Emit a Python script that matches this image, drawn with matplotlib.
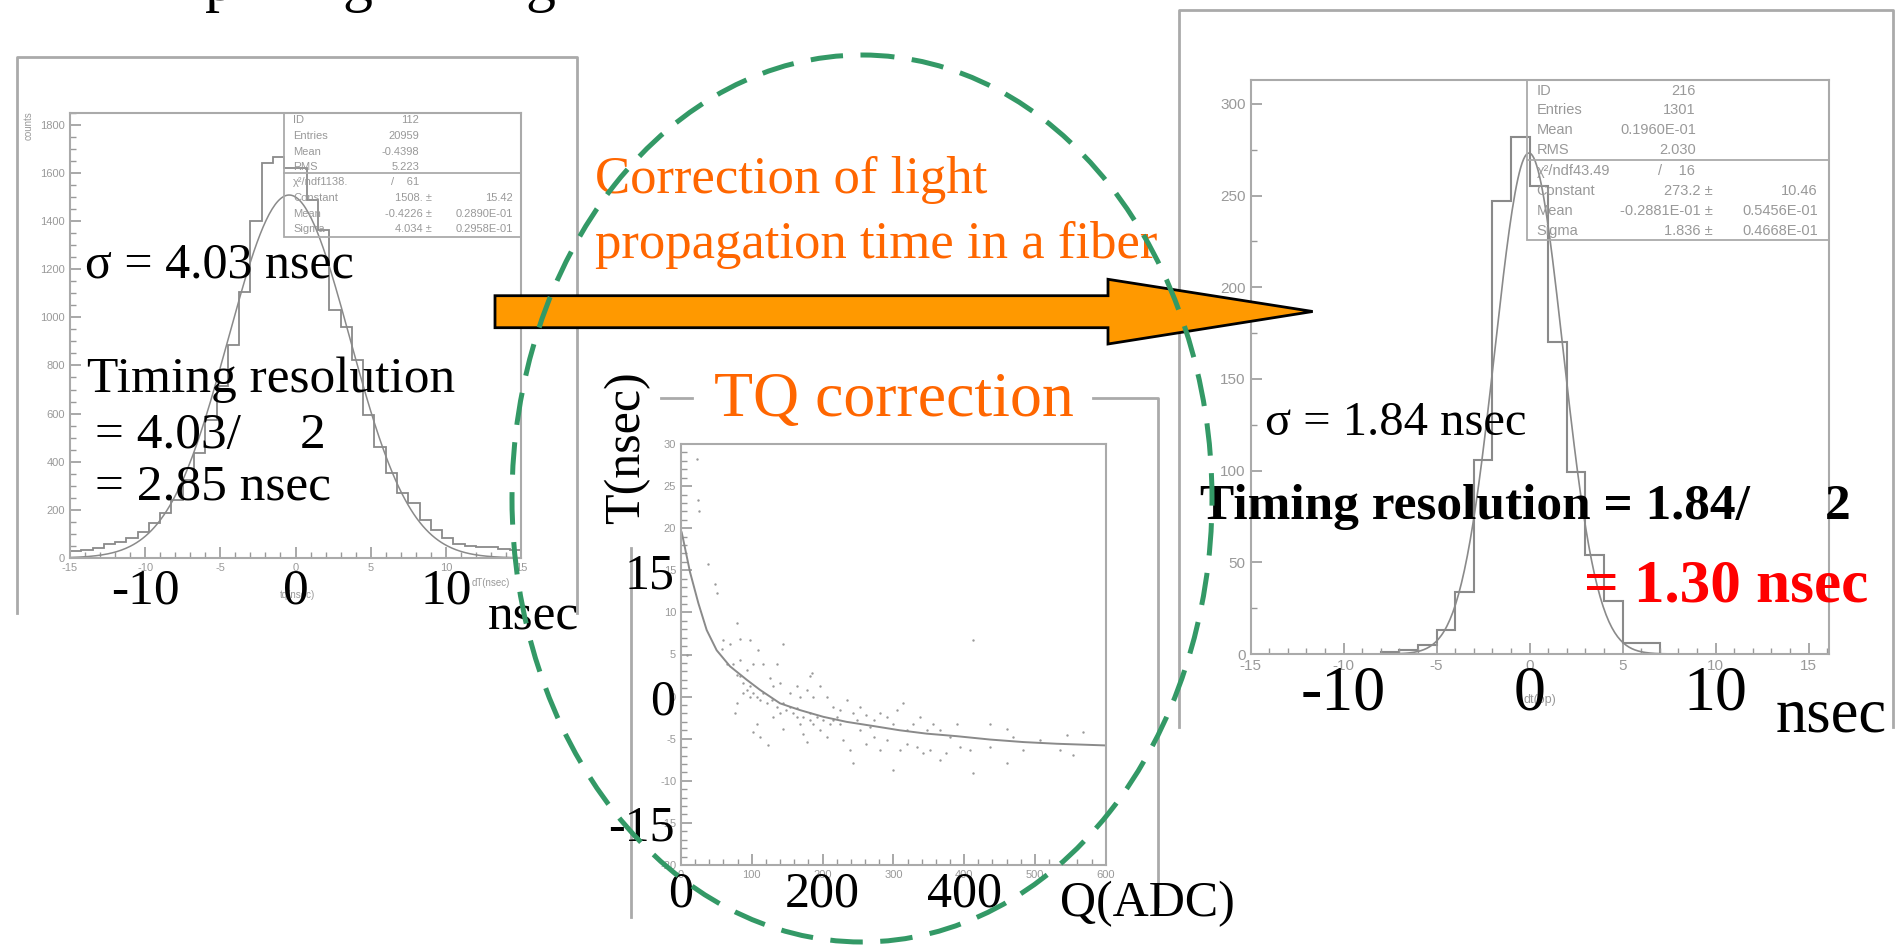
import matplotlib
matplotlib.use('Agg')
import matplotlib.pyplot as plt
import numpy as np
from matplotlib.patches import Ellipse, Polygon, Rectangle
from matplotlib.transforms import blended_transform_factory, offset_copy
from matplotlib.ticker import MultipleLocator

plt.rcParams['axes.unicode_minus'] = False

W, H = 1904, 951
SERIF = 'Liberation Serif'
SANS = 'Liberation Sans'
GREY = '#999999'
LINE = '#8a8a8a'

# --- timing difference before correction (40 bins, -15..15 ns)
dt_edges = np.linspace(-15, 15, 41)
dt_counts = [30, 35, 40, 58, 66, 82, 110, 144, 186, 240,
             324, 435, 574, 713, 885, 1107, 1398, 1641, 1664, 1620,
             1620, 1488, 1363, 1031, 960, 823, 594, 463, 352, 269,
             230, 158, 116, 82, 58, 50, 47, 44, 36, 33]
fit_before = (1508.0, -0.4226, 4.034)   # constant, mean, sigma

# --- timing difference after correction (1 ns bins)
dt2_edges = np.arange(-8, 8)
dt2_counts = [1, 2, 5, 13, 34, 106, 247, 282, 255, 170, 99, 54, 29, 6, 6]
fit_after = (273.2, -0.02881, 1.836)

# --- T vs Q scatter and correction curve
tq_q = [23, 26, 24.5, 38.6, 48, 50.4, 8, 78.7, 69.2, 59.8, 57.5, 83.4, 97.5, 74,
        83.4, 64.5, 78.7, 92.8, 102, 109, 116, 125.8, 135, 144.6, 130.5, 140, 154,
        163.4, 168, 177.6, 182, 184.6, 187, 196, 205.8, 215, 224.7, 234, 243.5, 253,
        262, 272, 281, 290.6, 300, 314, 304.7, 319, 328, 337.7, 347, 356.5, 366, 380,
        389.5, 413, 436.6, 460, 469.6, 507, 545, 568.5, 535.5, 554,
        76.3, 78.7, 88, 97.5, 107, 102, 111.6, 123, 130.5, 140, 144.6, 154, 163.4,
        168, 173, 177.6, 182, 187, 196, 205.8, 215, 224.7, 229, 239, 243.5, 253, 262,
        272, 281, 290.6, 300, 309.4, 319, 333, 342.4, 352, 366, 375, 394, 408, 413,
        436.6, 460, 483.7,
        83.4, 88, 92.8, 97.5, 102, 107, 111.6, 116, 121, 128, 135, 144.6, 149, 158.7,
        163.4, 173, 182, 191.7, 201, 210.5, 220, 248, 267]
tq_t = [28.2, 22.1, 23.3, 15.8, 13.4, 12.3, 4.9, 8.8, 6.3, 6.7, 5.7, 6.9, 6.7, 3.9,
        4.3, 3.9, 2.6, 3.2, 3.9, 5.5, 3.9, 2.2, 3.9, 6.3, 1.2, 1.6, 0.4,
        1.2, 0.0, 0.8, 2.4, 2.8, 0.0, 1.2, 0.0, -1.2, -1.6, -0.4, -2.0, -1.2,
        -2.2, -2.8, -2.0, -2.4, -3.2, -0.8, -1.6, -4.0, -3.2, -2.4, -4.0, -3.2, -4.0, -4.8,
        -3.2, 6.7, -3.2, -3.8, -4.8, -5.2, -4.6, -4.2, -6.4, -6.9,
        -2.0, -0.8, 0.4, 0.0, -3.2, -4.2, -4.8, -5.8, -2.4, -2.0, -3.8, -1.2, -2.4,
        -3.2, -4.4, -5.4, -2.0, -3.2, -4.0, -4.8, -2.8, -3.2, -5.2, -6.4, -7.9, -4.0, -5.6,
        -4.8, -6.4, -5.2, -8.7, -6.4, -5.6, -6.0, -6.7, -6.4, -7.5, -6.7, -6.0, -6.4, -9.1,
        -6.0, -7.9, -6.4,
        2.4, 1.6, 0.8, 1.2, 0.4, 0.0, -0.4, 0.4, -0.8, -0.4, -1.2, -0.8, -1.6, -2.0,
        -1.4, -2.4, -2.8, -2.4, -2.8, -3.2, -2.4, -2.8, -3.6]
curve_q = [1, 3.3, 12.7, 24.5, 36.3, 50.4, 69.2, 92.8, 111.6, 139.9, 168, 201, 234,
           272, 309, 347, 389.5, 436.6, 483.7, 530.8, 600]
curve_t = [19.5, 18.6, 14.8, 11.1, 7.9, 5.5, 3.6, 2.0, 0.8, -0.8, -1.6, -2.4, -3.0,
           -3.5, -4.0, -4.4, -4.7, -5.1, -5.4, -5.6, -5.8]


def px_box(x0, y0, x1, y1):
    return [x0 / W, 1 - y1 / H, (x1 - x0) / W, (y1 - y0) / H]


def gauss(x, c, m, s):
    return c * np.exp(-0.5 * ((x - m) / s) ** 2)


def paw_axes(ax, tick_size):
    for sp in ax.spines.values():
        sp.set_color('#aaaaaa')
        sp.set_linewidth(1.5)
    ax.tick_params(which='both', direction='in', color=GREY, labelcolor=GREY,
                   labelsize=tick_size, top=False, right=False)
    ax.tick_params(which='major', length=8, width=1.2)
    ax.tick_params(which='minor', length=4, width=1)
    for lab in ax.get_xticklabels() + ax.get_yticklabels():
        lab.set_family(SANS)


fig = plt.figure(figsize=(W / 100, H / 100), dpi=100)

# left histogram
axl = fig.add_axes(px_box(70, 112.7, 521, 558))
axl.stairs(dt_counts, dt_edges, color=LINE, lw=1.3)
xs = np.linspace(-15, 15, 300)
axl.plot(xs, gauss(xs, *fit_before), color=LINE, lw=1.1)
axl.set_xlim(-15, 15)
axl.set_ylim(0, 1850)
axl.xaxis.set_major_locator(MultipleLocator(5))
axl.xaxis.set_minor_locator(MultipleLocator(1))
axl.yaxis.set_major_locator(MultipleLocator(200))
axl.yaxis.set_minor_locator(MultipleLocator(50))
paw_axes(axl, 8)

# right histogram
axr = fig.add_axes(px_box(1250.5, 80, 1829, 654))
axr.stairs(dt2_counts, dt2_edges, color=LINE, lw=1.5)
xs2 = np.linspace(-15, 16, 400)
axr.plot(xs2, gauss(xs2, *fit_after), color=LINE, lw=1.2)
axr.set_xlim(-15, 16.1)
axr.set_ylim(0, 313)
axr.set_xticks([-15, -10, -5, 0, 5, 10, 15])
axr.xaxis.set_minor_locator(MultipleLocator(1))
axr.yaxis.set_major_locator(MultipleLocator(50))
axr.yaxis.set_minor_locator(MultipleLocator(25))
paw_axes(axr, 11)

# middle T-Q scatter
axm = fig.add_axes(px_box(681, 444, 1105.7, 865))
axm.scatter(tq_q, tq_t, s=3, color='#9a9a9a', linewidths=0)
axm.plot(curve_q, curve_t, color=LINE, lw=1.4)
axm.set_xlim(0, 600)
axm.set_ylim(-20, 30)
axm.xaxis.set_major_locator(MultipleLocator(100))
axm.xaxis.set_minor_locator(MultipleLocator(20))
axm.yaxis.set_major_locator(MultipleLocator(5))
axm.yaxis.set_minor_locator(MultipleLocator(1))
paw_axes(axm, 8)

# overlay in pixel coordinates (y downwards)
ov = fig.add_axes([0, 0, 1, 1], zorder=10)
ov.set_xlim(0, W)
ov.set_ylim(H, 0)
ov.axis('off')
ov.patch.set_alpha(0)

frame = dict(color='#aaaaaa', lw=2)
ov.plot([16.6, 16.6, 577, 577], [613, 57.3, 57.3, 613], **frame)
ov.plot([1179, 1179, 1893, 1893], [727, 10, 10, 727], **frame)
ov.plot([631, 631], [548, 917], **frame)
ov.plot([661, 692], [398, 398], **frame)
ov.plot([1093, 1158, 1158], [398, 398, 906], **frame)

# stat boxes
def stat_box(x0, y0, x1, y1, ydiv, rows, xlab, size):
    ov.add_patch(Rectangle((x0, y0), x1 - x0, y1 - y0, fill=False,
                           edgecolor='#aaaaaa', lw=1.3))
    ov.plot([x0, x1], [ydiv, ydiv], color='#aaaaaa', lw=1.3)
    for y, lab, c1x, c1, c2x, c2 in rows:
        ov.text(xlab, y, lab, family=SANS, fontsize=size, color=GREY,
                va='center', ha='left')
        ov.text(c1x, y, c1, family=SANS, fontsize=size, color=GREY,
                va='center', ha='right')
        if c2:
            ov.text(c2x, y, c2, family=SANS, fontsize=size, color=GREY,
                    va='center', ha='right')

stat_box(284, 112.7, 521, 236.7, 173.3, [
    (120, 'ID', 419, '112', 0, ''),
    (136, 'Entries', 419, '20959', 0, ''),
    (151.7, 'Mean', 419, '-0.4398', 0, ''),
    (166.7, 'RMS', 419, '5.223', 0, ''),
    (181.7, '\u03c7\u00b2/ndf1138.', 419, '/    61', 0, ''),
    (198.3, 'Constant', 431.7, '1508. \u00b1', 513.3, '15.42'),
    (214, 'Mean', 431.7, '-0.4226 \u00b1', 513.3, '0.2890E-01'),
    (229.3, 'Sigma', 431.7, '4.034 \u00b1', 513.3, '0.2958E-01'),
], 293, 8)

stat_box(1527, 80, 1829, 240, 160.3, [
    (90.6, 'ID', 1696, '216', 0, ''),
    (109.8, 'Entries', 1696, '1301', 0, ''),
    (130, 'Mean', 1696, '0.1960E-01', 0, ''),
    (150.3, 'RMS', 1696, '2.030', 0, ''),
    (171, '\u03c7\u00b2/ndf43.49', 1695, '/    16', 0, ''),
    (190.9, 'Constant', 1712.6, '273.2 \u00b1', 1818, '10.46'),
    (210.8, 'Mean', 1712.6, '-0.2881E-01 \u00b1', 1818, '0.5456E-01'),
    (231, 'Sigma', 1712.6, '1.836 \u00b1', 1818, '0.4668E-01'),
], 1536.6, 10.5)

# small axis titles of the embedded plots
ov.text(491, 583, 'dT(nsec)', family=SANS, fontsize=7, color=GREY, ha='center', va='center')
ov.text(297, 595, 'tq(nsec)', family=SANS, fontsize=7, color=GREY, ha='center', va='center')
ov.text(29, 126, 'counts', family=SANS, fontsize=7, color=GREY, ha='center',
        va='center', rotation=90)
ov.text(1540, 700, 'dt(op)', family=SANS, fontsize=9, color=GREY, ha='center', va='center')

# title line running off the top edge
for x, ch in [(205, 'p'), (342, 'g'), (525, 'g')]:
    ov.text(x, 0, ch, family=SERIF, fontsize=43, color='black', va='baseline')

# orange arrow
ov.add_patch(Polygon([(495, 295.7), (1108, 295.7), (1108, 279.3), (1312.7, 311.5),
                      (1108, 344), (1108, 327.7), (495, 327.7)], closed=True,
                     facecolor='#FF9900', edgecolor='black', lw=2, zorder=3))

orange = '#FF6600'
ov.text(595, 193, 'Correction of light', family=SERIF, fontsize=38, color=orange, va='baseline')
ov.text(595, 258, 'propagation time in a fiber', family=SERIF, fontsize=38,
        color=orange, va='baseline')
ov.text(713.6, 416, 'TQ correction', family=SERIF, fontsize=46, color=orange, va='baseline')

# left plot annotations
txt = dict(family=SERIF, color='black', va='baseline')
ov.text(85, 278, '\u03c3 = 4.03 nsec', fontsize=36, **txt)
ov.text(86.7, 391.7, 'Timing resolution', fontsize=37, **txt)
ov.text(95, 448.3, '= 4.03/', fontsize=37, **txt)
ov.text(300, 448.3, '2', fontsize=37, **txt)
ov.text(95, 500, '= 2.85 nsec', fontsize=37, **txt)
tl = blended_transform_factory(axl.transData, ov.transData)
for v in (-10, 0, 10):
    ov.text(v, 603, str(v), transform=tl, ha='center', fontsize=37, **txt)
ov.text(488, 630, 'nsec', fontsize=37, **txt)

# right plot annotations
ov.text(1265, 435, '\u03c3 = 1.84 nsec', fontsize=35, **txt)
ov.text(1200, 519, 'Timing resolution = 1.84/', fontsize=37, weight='bold', **txt)
ov.text(1825, 519, '2', fontsize=37, weight='bold', **txt)
ov.text(1584, 602, '= 1.30 nsec', family=SERIF, fontsize=44, weight='bold',
        color='#FF0000', va='baseline')
tr = blended_transform_factory(axr.transData, ov.transData)
for v in (-10, 0, 10):
    ov.text(v, 710, str(v), transform=tr, ha='center', fontsize=46, **txt)
ov.text(1776, 732, 'nsec', fontsize=45, **txt)

# middle plot annotations
ov.text(627, 448, 'T(nsec)', family=SERIF, fontsize=36, color='black', rotation=90,
        ha='center', va='center')
tm_y = offset_copy(blended_transform_factory(ov.transData, axm.transData), fig=fig,
                   x=0, y=-18, units='dots')
for v in (15, 0, -15):
    ov.text(675, v, str(v), transform=tm_y, ha='right', fontsize=36, **txt)
tm_x = blended_transform_factory(axm.transData, ov.transData)
for v in (0, 200, 400):
    ov.text(v, 906.6, str(v), transform=tm_x, ha='center', fontsize=36, **txt)
ov.text(1060, 916, 'Q(ADC)', fontsize=36, **txt)

# dashed green ellipse around the correction step
ov.add_patch(Ellipse((862, 498.5), 700, 887, fill=False, edgecolor='#339966',
                     lw=3.6, linestyle=(0, (6.5, 3.5)), zorder=4))

fig.savefig('out.png', dpi=100)
